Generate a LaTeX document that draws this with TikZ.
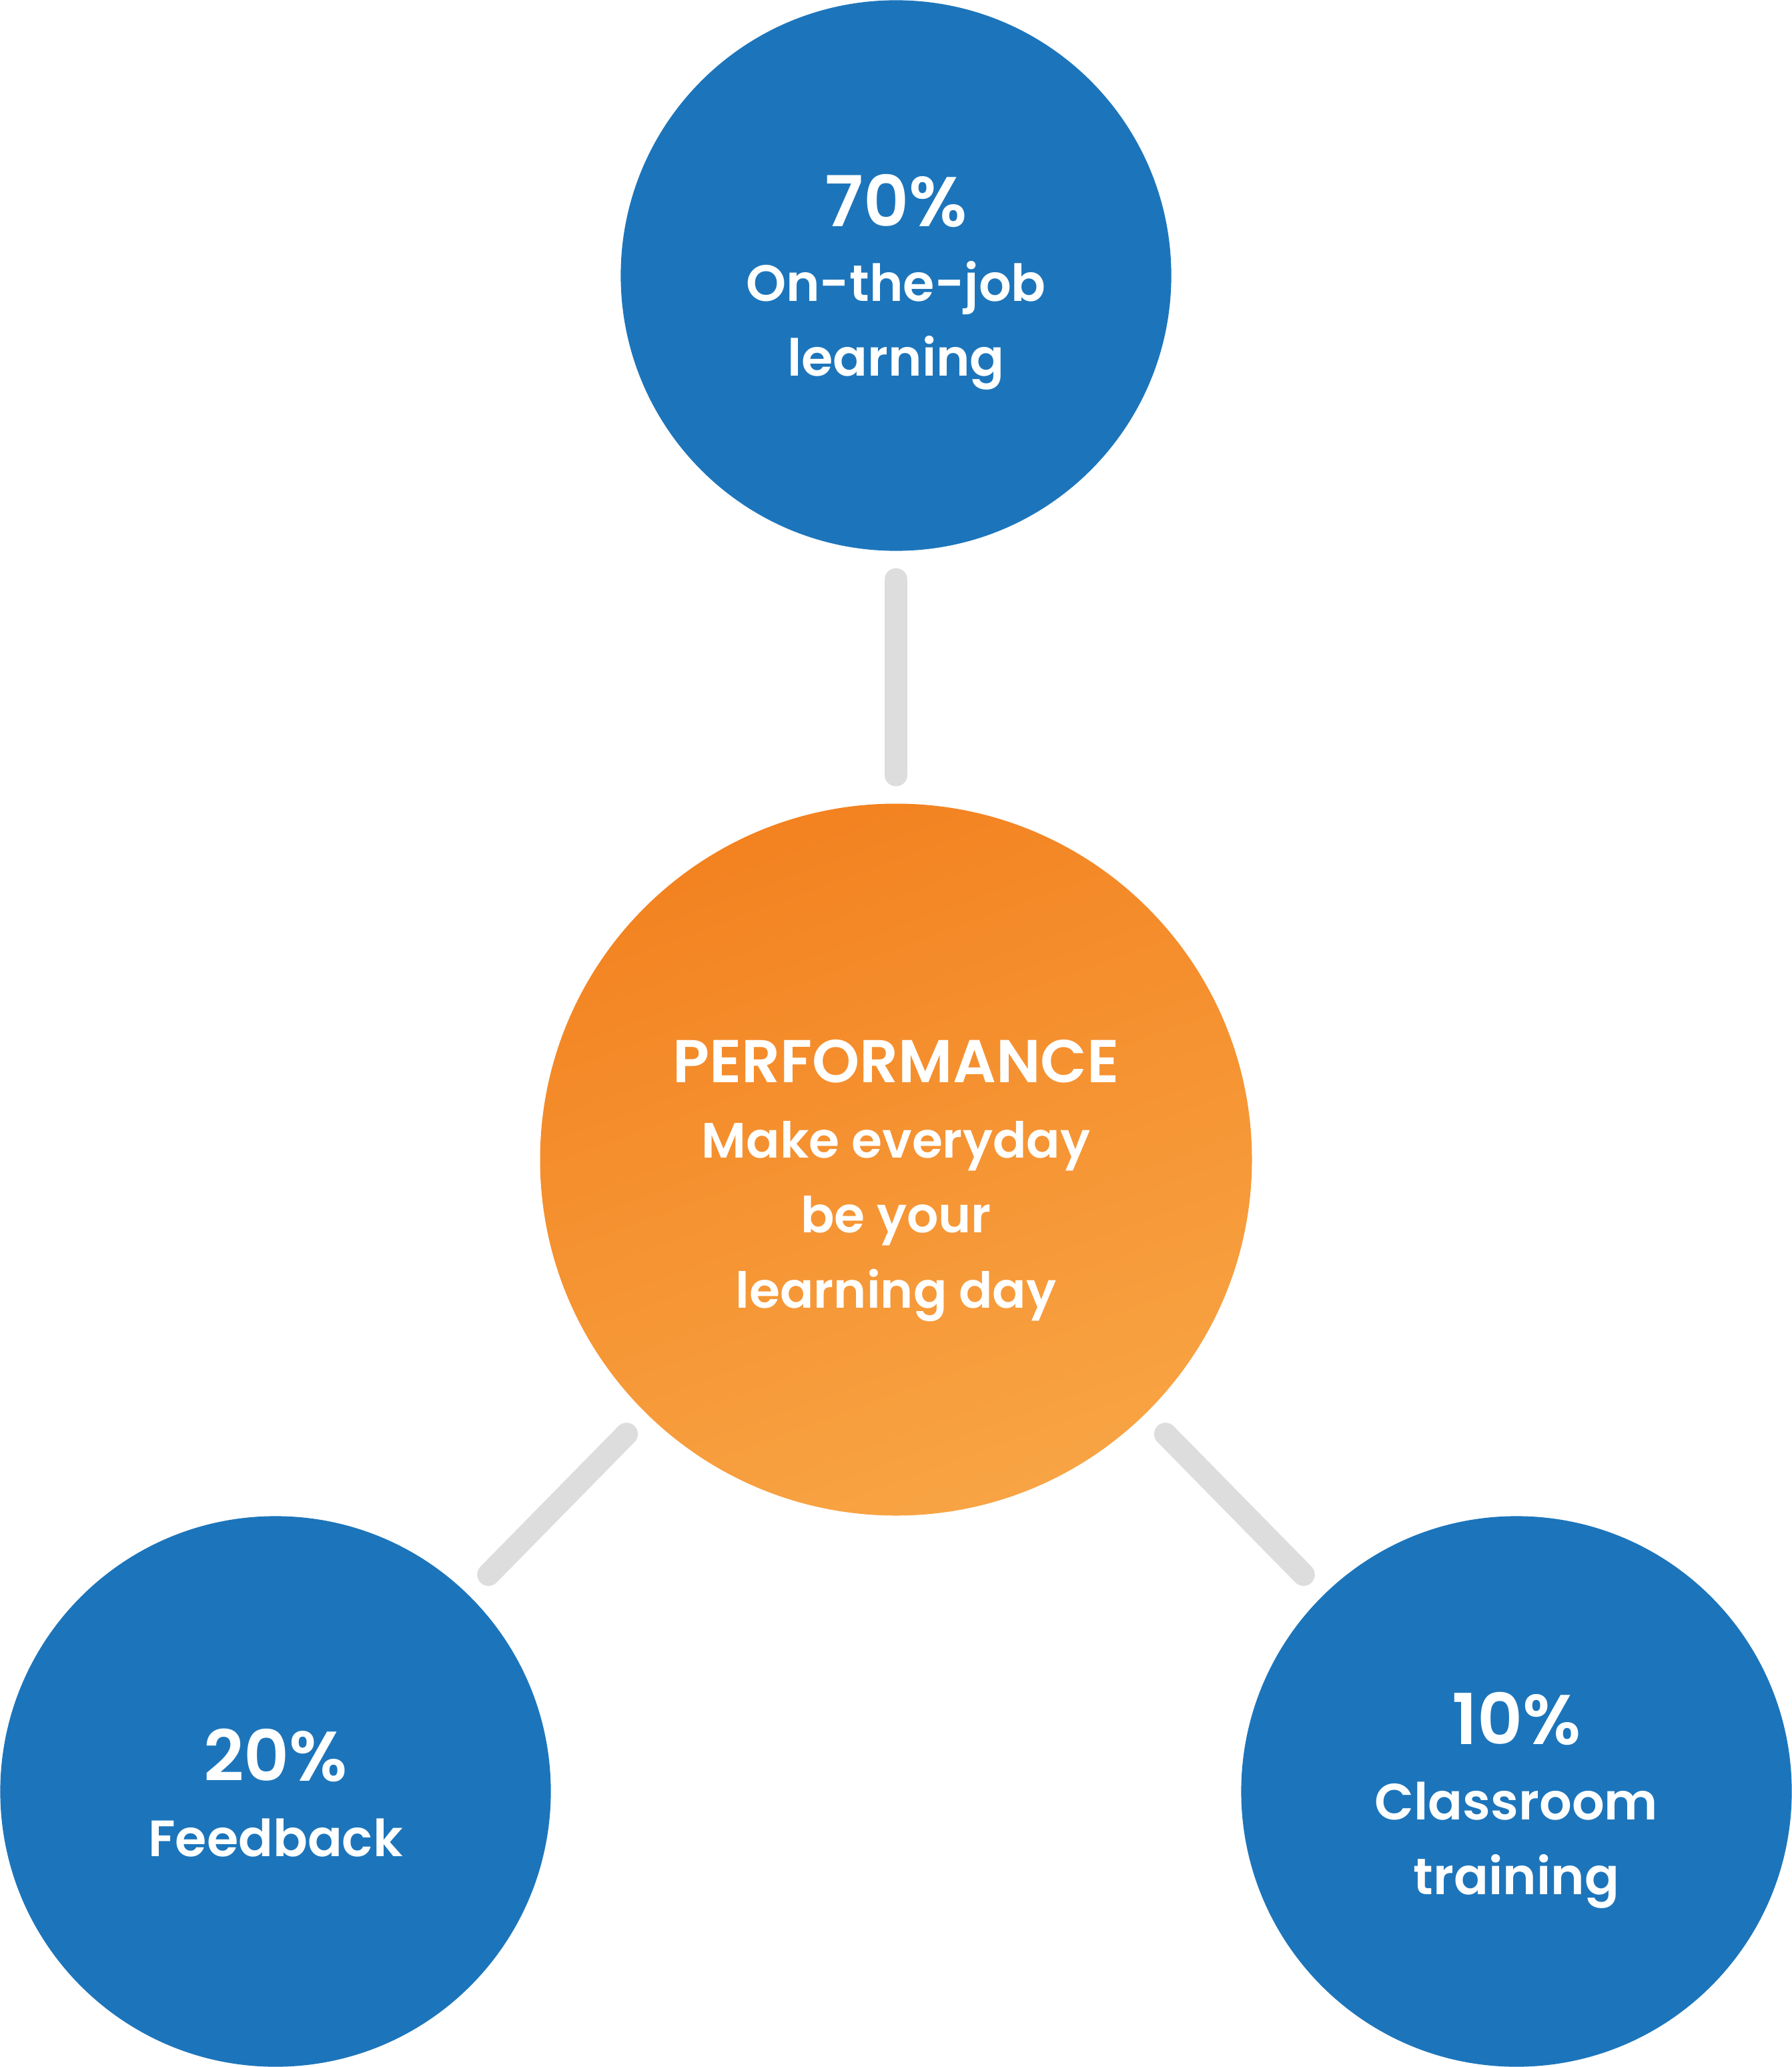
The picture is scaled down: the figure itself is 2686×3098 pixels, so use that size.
\documentclass[tikz,border=0pt]{standalone}
\usepackage{fontspec}
\setmainfont{Poppins}[UprightFont=* SemiBold, BoldFont=* SemiBold]
\usetikzlibrary{positioning}
\definecolor{ringblue}{HTML}{1C75BB}
\definecolor{perftop}{HTML}{F38220}
\definecolor{perfbot}{HTML}{F8A444}
\definecolor{linkgray}{HTML}{DDDDDD}
\begin{document}
\begin{tikzpicture}[x=0.005cm,y=-0.005cm,
    blob/.style={circle,inner sep=0pt,outer sep=0pt,minimum size=4.13cm,fill=ringblue},
    caption/.style={inner sep=0pt,text=white,align=center,font=\fontsize{10.9}{16}\selectfont},
    link/.style={line width=0.17cm,line cap=round,draw=linkgray,shorten <=0.215cm,shorten >=0.215cm}]
  \useasboundingbox (0,0) rectangle (2686,3098);
  % the four circles
  \node[blob] (job) at (1343,413) {};
  \node[circle,inner sep=0pt,outer sep=0pt,minimum size=5.34cm,top color=perftop,bottom color=perfbot,shading angle=20] (perf) at (1343,1738) {};
  \node[blob] (feed) at (413,2685) {};
  \node[blob] (class) at (2273,2685) {};
  % texts
  \node[caption,yshift=-1.4pt] (jobtext) at (job) {{\fontsize{15}{16}\selectfont\bfseries 70\%}\\On-the-job\\learning};
  \node[caption,yshift=-4.5pt,font=\fontsize{10.6}{16}\selectfont] (perftext) at (perf) {{\fontsize{12.9}{16}\selectfont\bfseries PERFORMANCE}\\Make everyday\\be your\\learning day};
  \node[caption,yshift=-0.3pt] (feedtext) at (feed) {{\fontsize{15}{16}\selectfont\bfseries 20\%}\\Feedback};
  \node[caption,yshift=-1.9pt] (classtext) at (class) {{\fontsize{15}{16}\selectfont\bfseries 10\%}\\Classroom\\training};
  % connectors
  \draw[link] (job) -- (perf);
  \draw[link] (perf) -- (feed);
  \draw[link] (perf) -- (class);
\end{tikzpicture}
\end{document}
